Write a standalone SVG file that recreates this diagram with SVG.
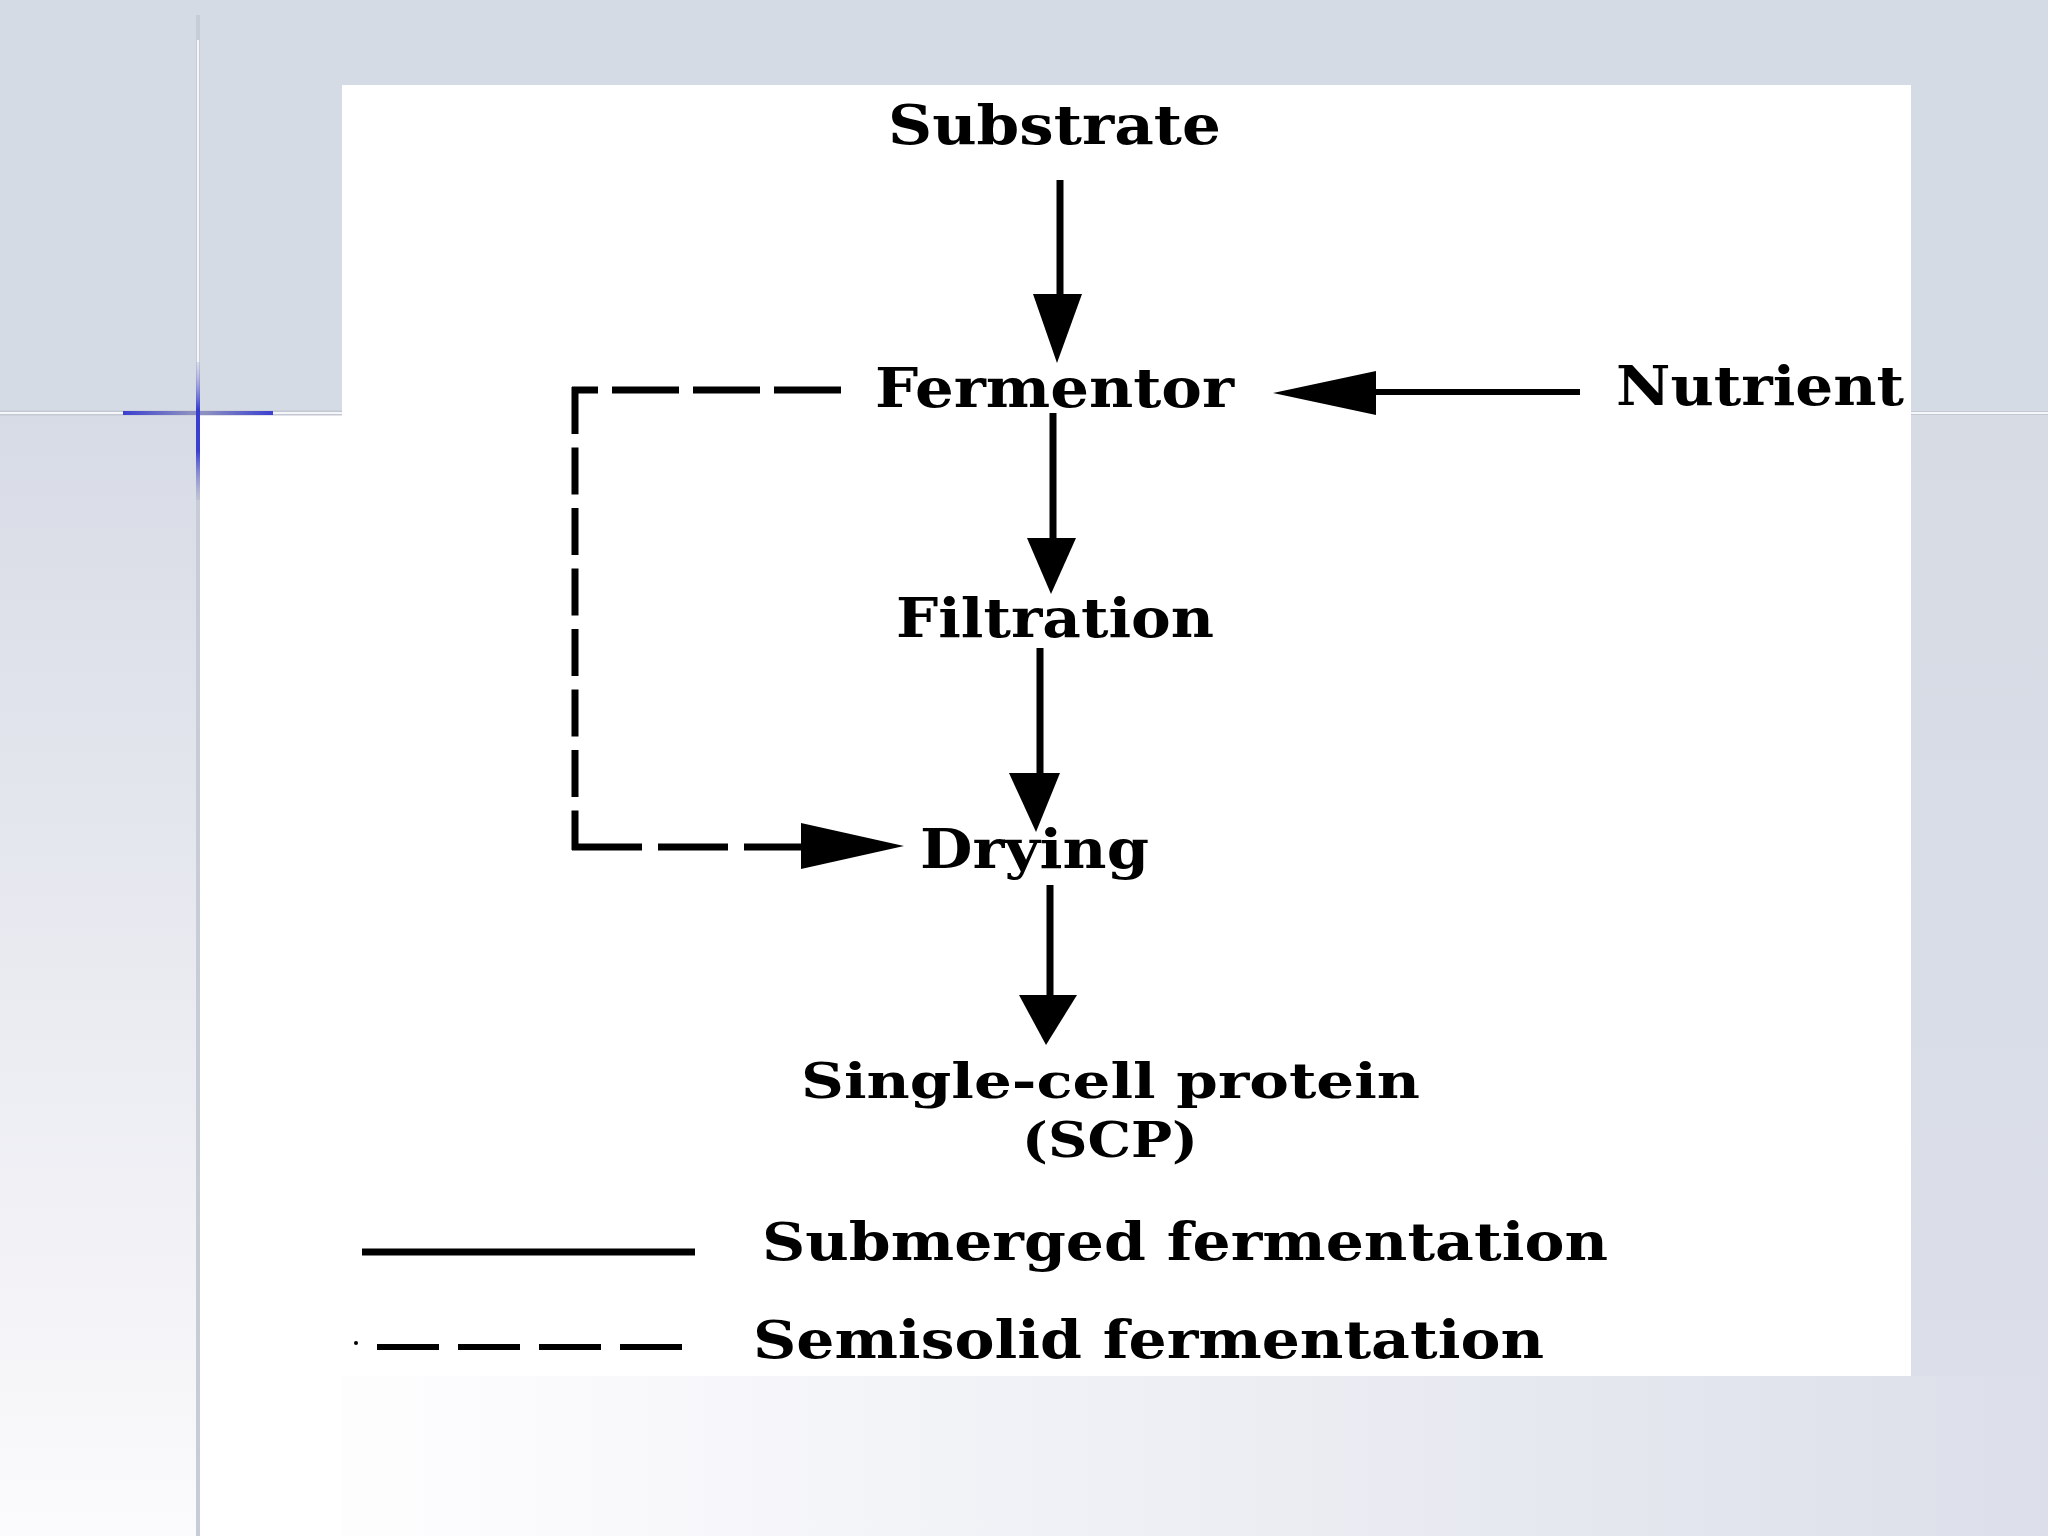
<svg xmlns="http://www.w3.org/2000/svg" width="2048" height="1536" viewBox="0 0 2048 1536">
  <defs>
    <linearGradient id="leftGrad" x1="0" y1="414" x2="0" y2="1536" gradientUnits="userSpaceOnUse">
      <stop offset="0" stop-color="#d7dbe5"/>
      <stop offset="1" stop-color="#fbfafc"/>
    </linearGradient>
    <linearGradient id="bottomGrad" x1="380" y1="0" x2="2048" y2="0" gradientUnits="userSpaceOnUse">
      <stop offset="0" stop-color="#fdfdfe"/>
      <stop offset="1" stop-color="#dcdfe9"/>
    </linearGradient>
    <linearGradient id="rightGrad" x1="0" y1="414" x2="0" y2="1536" gradientUnits="userSpaceOnUse">
      <stop offset="0" stop-color="#d6dbe4"/>
      <stop offset="1" stop-color="#dcdfe9"/>
    </linearGradient>
    <linearGradient id="blueH" x1="123" y1="0" x2="273" y2="0" gradientUnits="userSpaceOnUse">
      <stop offset="0" stop-color="#3b3fd0"/>
      <stop offset="0.45" stop-color="#8c90c0"/>
      <stop offset="0.55" stop-color="#8c90c0"/>
      <stop offset="1" stop-color="#3b3fd0"/>
    </linearGradient>
    <linearGradient id="blueV" x1="0" y1="360" x2="0" y2="500" gradientUnits="userSpaceOnUse">
      <stop offset="0" stop-color="#b0b4d0" stop-opacity="0.3"/>
      <stop offset="0.35" stop-color="#3b3fd0"/>
      <stop offset="0.65" stop-color="#3b3fd0"/>
      <stop offset="1" stop-color="#b0b4d0" stop-opacity="0.4"/>
    </linearGradient>
    <style>
      .lbl { font-family: "DejaVu Serif", "Liberation Serif", serif; font-weight: bold; font-size: 54px; fill: #000; }
      .sm { font-size: 48px; }
      .leg { font-family: "DejaVu Serif", "Liberation Serif", serif; font-weight: bold; font-size: 52px; fill: #000; }
      .solid { stroke: #000; stroke-width: 7; fill: none; }
      .dash { stroke: #000; stroke-width: 7; fill: none; }
      .head { fill: #000; stroke: none; }
    </style>
  </defs>

  <!-- background -->
  <rect x="0" y="0" width="2048" height="1536" fill="#d5dbe4"/>
  <rect x="0" y="414" width="198" height="1122" fill="url(#leftGrad)"/>
  <rect x="1911" y="414" width="137" height="1122" fill="url(#rightGrad)"/>
  <rect x="198" y="1376" width="1850" height="160" fill="url(#bottomGrad)"/>
  <rect x="342" y="85" width="1569" height="1291" fill="#ffffff"/>
  <rect x="200" y="414" width="142" height="1122" fill="#ffffff"/>

  <!-- frame lines -->
  <line x1="0" y1="413" x2="342" y2="413" stroke="#c4c8d2" stroke-width="5"/>
  <line x1="0" y1="413" x2="342" y2="413" stroke="#f4f6fa" stroke-width="2"/>
  <line x1="1911" y1="413" x2="2048" y2="413" stroke="#c4c8d2" stroke-width="4"/>
  <line x1="1911" y1="413" x2="2048" y2="413" stroke="#f6f7fb" stroke-width="2"/>
  <line x1="198" y1="15" x2="198" y2="1536" stroke="#c8ccd6" stroke-width="4"/>
  <line x1="198" y1="40" x2="198" y2="414" stroke="#f4f6fa" stroke-width="2"/>
  <line x1="123" y1="413" x2="273" y2="413" stroke="url(#blueH)" stroke-width="4"/>
  <line x1="198" y1="362" x2="198" y2="500" stroke="url(#blueV)" stroke-width="4"/>

  <!-- nodes -->
  <g id="substrate"><text class="lbl" x="888" y="144" textLength="333" lengthAdjust="spacingAndGlyphs">Substrate</text></g>
  <g id="fermentor"><text class="lbl" x="875" y="407" textLength="359" lengthAdjust="spacingAndGlyphs">Fermentor</text></g>
  <g id="nutrient"><text class="lbl" x="1616" y="405" textLength="288" lengthAdjust="spacingAndGlyphs">Nutrient</text></g>
  <g id="filtration"><text class="lbl" x="896" y="637" textLength="318" lengthAdjust="spacingAndGlyphs">Filtration</text></g>
  <g id="drying"><text class="lbl" x="920" y="868" textLength="229" lengthAdjust="spacingAndGlyphs">Drying</text></g>
  <g id="scp">
    <text class="lbl sm" x="801" y="1098" textLength="619" lengthAdjust="spacingAndGlyphs">Single-cell protein</text>
    <text class="lbl sm" x="1022" y="1157" textLength="176" lengthAdjust="spacingAndGlyphs">(SCP)</text>
  </g>

  <!-- connectors -->
  <g id="connectors">
    <line class="solid" x1="1060" y1="180" x2="1060" y2="298"/>
    <polygon class="head" points="1033,294 1082,294 1057,363"/>

    <line class="solid" x1="1372" y1="392" x2="1580" y2="392" style="stroke-width:6"/>
    <polygon class="head" points="1376,371 1376,415 1273,393"/>

    <line class="solid" x1="1053" y1="413" x2="1053" y2="542"/>
    <polygon class="head" points="1027,538 1076,538 1051,594"/>

    <line class="solid" x1="1040" y1="648" x2="1040" y2="777"/>
    <polygon class="head" points="1009,773 1060,773 1036,832"/>

    <line class="solid" x1="1050" y1="885" x2="1050" y2="999"/>
    <polygon class="head" points="1019,995 1077,995 1046,1045"/>

    <!-- semisolid return path -->
    <line class="dash" x1="841" y1="390" x2="572" y2="390" stroke-dasharray="67 14"/>
    <line class="dash" x1="575" y1="387" x2="575" y2="850" stroke-dasharray="47 13.5"/>
    <line class="dash" x1="572" y1="847" x2="803" y2="847" stroke-dasharray="70 16"/>
    <polygon class="head" points="801,823 801,869 904,846"/>
  </g>

  <!-- legend -->
  <g id="legend">
    <line class="solid" x1="362" y1="1252" x2="695" y2="1252"/>
    <text class="leg" x="762" y="1260" textLength="846" lengthAdjust="spacingAndGlyphs">Submerged fermentation</text>
    <circle cx="356" cy="1343" r="2" fill="#000"/>
    <line x1="377" y1="1347" x2="688" y2="1347" stroke="#000" stroke-width="6" stroke-dasharray="62 19"/>
    <text class="leg" x="753" y="1358" textLength="791" lengthAdjust="spacingAndGlyphs">Semisolid fermentation</text>
  </g>
</svg>
